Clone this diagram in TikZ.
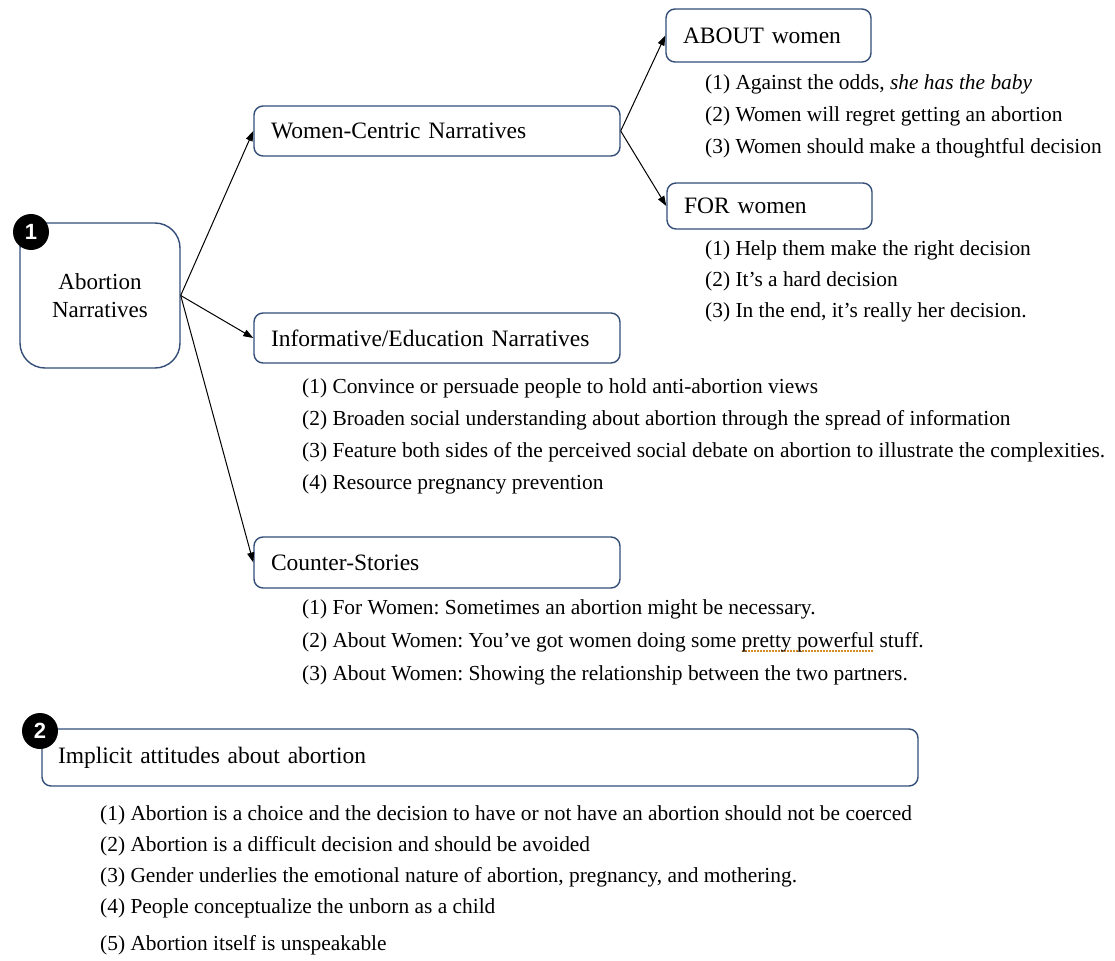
\documentclass[tikz,border=0pt]{standalone}
\usepackage{fontspec}
\setmainfont{Liberation Serif}
\newfontfamily\badgefont{Liberation Sans}
\usetikzlibrary{arrows.meta}
\frenchspacing
\definecolor{boxblue}{RGB}{52,78,120}
\definecolor{squig}{RGB}{214,140,40}
\newcommand{\lblfont}{\fontsize{23.5}{28}\selectfont}
\newcommand{\itmfont}{\fontsize{21.4}{26}\selectfont}
\newcommand{\spellmark}[1]{\setbox0\hbox{#1}\rlap{\raisebox{-5pt}{\color{squig}\hbox to \wd0{\leaders\hbox to 3pt{\hss\rule{1.6pt}{1.6pt}\hss}\hfill}}}\box0\relax}
\tikzset{
  labelbox/.style={draw=boxblue, line width=1.4pt, rounded corners=9pt, fill=white,
    align=left, inner xsep=17pt, inner ysep=0pt, font=\lblfont, anchor=center},
  item/.style={anchor=west, inner sep=0pt, font=\itmfont},
  badge/.style={circle, fill=black, text=white, minimum size=36pt, inner sep=0pt,
    font=\badgefont\bfseries\fontsize{22}{22}\selectfont},
  arr/.style={-{Triangle[length=10pt,width=7pt]}, line width=1pt, black}
}
\begin{document}
\begin{tikzpicture}[x=1pt,y=-1pt]
\useasboundingbox[fill=white] (0,0) rectangle (1115,960);

% main box
\node[labelbox, rounded corners=25pt, align=center, text width=126pt, minimum height=145pt,
  font=\fontsize{23}{28}\selectfont] (abort) at (100,295.5) {Abortion\\Narratives};

% level 2 boxes
\node[labelbox, text width=332pt, minimum height=50pt] (wc) at (437,131) {Women-Centric Narratives};
\node[labelbox, text width=332pt, minimum height=50pt] (info) at (437,338) {Informative/Education Narratives};
\node[labelbox, text width=332pt, minimum height=51pt] (counter) at (437,562.5) {Counter-Stories};

% level 3 boxes
\node[labelbox, text width=171pt, minimum height=53pt] (about) at (768.5,35.5) {ABOUT women};
\node[labelbox, text width=171pt, minimum height=46pt] (for) at (769.5,206) {FOR women};

% implicit box
\node[labelbox, inner xsep=16pt, text width=844pt, minimum height=57pt] (implicit) at (480,757.5) {Implicit attitudes about abortion};

% badges
\node[badge] (b1) at (31,232) {1};
\node[badge] (b2) at (40,731) {2};

% arrows
\draw[arr] (abort.east) -- (wc.west);
\draw[arr] (abort.east) -- (info.west);
\draw[arr] (abort.east) -- (counter.west);
\draw[arr] (wc.east) -- (about.west);
\draw[arr] (wc.east) -- (for.west);

% ABOUT items
\node[item] (ab1) at (705,84) {(1) Against the odds, \textit{she has the baby}};
\node[item] (ab2) at (705,116) {(2) Women will regret getting an abortion};
\node[item] (ab3) at (705,148) {(3) Women should make a thoughtful decision};

% FOR items
\node[item] (fo1) at (705,250) {(1) Help them make the right decision};
\node[item] (fo2) at (705,281) {(2) It’s a hard decision};
\node[item] (fo3) at (705,312) {(3) In the end, it’s really her decision.};

% Informative items
\node[item] (in1) at (302,388) {(1) Convince or persuade people to hold anti-abortion views};
\node[item] (in2) at (302,420) {(2) Broaden social understanding about abortion through the spread of information};
\node[item] (in3) at (302,452) {(3) Feature both sides of the perceived social debate on abortion to illustrate the complexities.};
\node[item] (in4) at (302,484) {(4) Resource pregnancy prevention};

% Counter items
\node[item] (co1) at (302,609) {(1) For Women: Sometimes an abortion might be necessary.};
\node[item] (co2) at (302,642) {(2) About Women: You’ve got women doing some \spellmark{pretty powerful} stuff.};
\node[item] (co3) at (302,675) {(3) About Women: Showing the relationship between the two partners.};

% Implicit items
\node[item] (im1) at (100,815) {(1) Abortion is a choice and the decision to have or not have an abortion should not be coerced};
\node[item] (im2) at (100,846) {(2) Abortion is a difficult decision and should be avoided};
\node[item] (im3) at (100,877) {(3) Gender underlies the emotional nature of abortion, pregnancy, and mothering.};
\node[item] (im4) at (100,908) {(4) People conceptualize the unborn as a child};
\node[item] (im5) at (100,945) {(5) Abortion itself is unspeakable};
\end{tikzpicture}
\end{document}
